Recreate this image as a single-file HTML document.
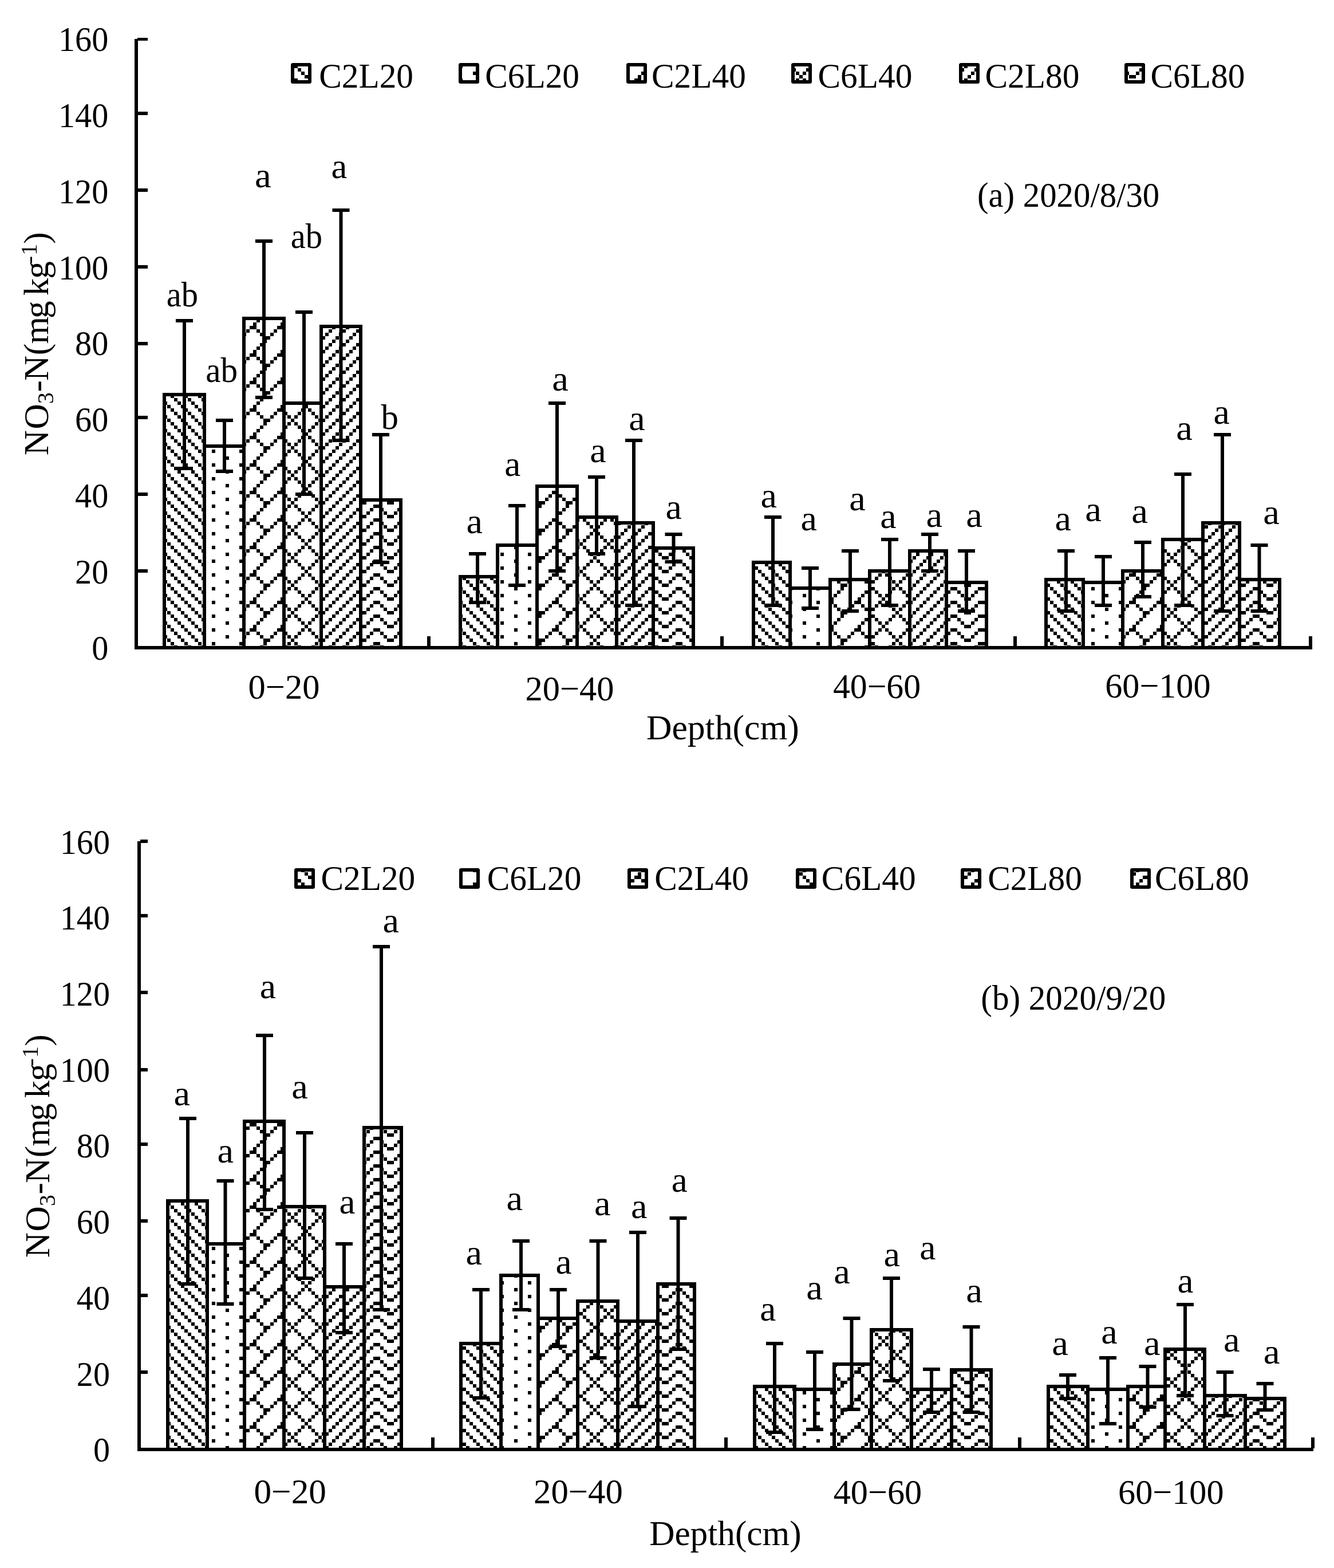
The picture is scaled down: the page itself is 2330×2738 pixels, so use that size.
<!DOCTYPE html>
<html><head><meta charset="utf-8"><title>NO3-N chart</title>
<style>html,body{margin:0;padding:0;background:#fff;}svg{display:block;}</style>
</head><body>
<svg width="2330" height="2738" viewBox="0 0 2330 2738">
<defs>
<pattern id="ltdn" patternUnits="userSpaceOnUse" x="4" y="5" width="24" height="24"><rect width="24" height="24" fill="#fff"/><rect x="18" y="0" width="6" height="6"/><rect x="0" y="6" width="6" height="6"/><rect x="6" y="12" width="6" height="6"/><rect x="12" y="18" width="6" height="6"/></pattern>
<pattern id="dots" patternUnits="userSpaceOnUse" x="4" y="5" width="48" height="24"><rect width="48" height="24" fill="#fff"/><rect x="6" y="0" width="6" height="6"/><rect x="30" y="12" width="6" height="6"/></pattern>
<pattern id="shingle" patternUnits="userSpaceOnUse" x="4" y="5" width="48" height="48"><rect width="48" height="48" fill="#fff"/><rect x="18" y="0" width="6" height="6"/><rect x="36" y="0" width="6" height="6"/><rect x="24" y="6" width="12" height="6"/><rect x="24" y="12" width="6" height="6"/><rect x="18" y="18" width="6" height="6"/><rect x="12" y="24" width="6" height="6"/><rect x="6" y="30" width="6" height="6"/><rect x="0" y="36" width="12" height="6"/><rect x="12" y="42" width="6" height="6"/><rect x="42" y="42" width="6" height="6"/></pattern>
<pattern id="dcross" patternUnits="userSpaceOnUse" x="4" y="5" width="48" height="48"><rect width="48" height="48" fill="#fff"/><rect x="18" y="0" width="6" height="6"/><rect x="30" y="0" width="6" height="6"/><rect x="24" y="6" width="6" height="6"/><rect x="18" y="12" width="6" height="6"/><rect x="30" y="12" width="6" height="6"/><rect x="12" y="18" width="6" height="6"/><rect x="36" y="18" width="6" height="6"/><rect x="6" y="24" width="6" height="6"/><rect x="42" y="24" width="6" height="6"/><rect x="0" y="30" width="6" height="6"/><rect x="6" y="36" width="6" height="6"/><rect x="42" y="36" width="6" height="6"/><rect x="12" y="42" width="6" height="6"/><rect x="36" y="42" width="6" height="6"/></pattern>
<pattern id="ltup" patternUnits="userSpaceOnUse" x="4" y="5" width="24" height="24"><rect width="24" height="24" fill="#fff"/><rect x="12" y="0" width="6" height="6"/><rect x="6" y="6" width="6" height="6"/><rect x="0" y="12" width="6" height="6"/><rect x="18" y="18" width="6" height="6"/></pattern>
<pattern id="wave" patternUnits="userSpaceOnUse" x="4" y="5" width="48" height="24"><rect width="48" height="24" fill="#fff"/><rect x="12" y="0" width="6" height="6"/><rect x="42" y="0" width="6" height="6"/><rect x="0" y="6" width="12" height="6"/><rect x="24" y="12" width="12" height="6"/><rect x="18" y="18" width="6" height="6"/><rect x="36" y="18" width="6" height="6"/></pattern>
</defs>
<rect width="2330" height="2738" fill="#fff"/>
<rect x="284" y="686" width="76" height="442" fill="url(#ltdn)"/>
<rect x="354" y="776" width="75" height="352" fill="url(#dots)"/>
<rect x="423" y="553" width="76" height="575" fill="url(#shingle)"/>
<rect x="493" y="701" width="71" height="427" fill="url(#dcross)"/>
<rect x="558" y="567" width="75" height="561" fill="url(#ltup)"/>
<rect x="627" y="870" width="76" height="258" fill="url(#wave)"/>
<rect x="801" y="1004" width="71" height="124" fill="url(#ltdn)"/>
<rect x="866" y="949" width="75" height="179" fill="url(#dots)"/>
<rect x="935" y="846" width="76" height="282" fill="url(#shingle)"/>
<rect x="1005" y="900" width="75" height="228" fill="url(#dcross)"/>
<rect x="1074" y="910" width="70" height="218" fill="url(#ltup)"/>
<rect x="1138" y="954" width="76" height="174" fill="url(#wave)"/>
<rect x="1313" y="979" width="70" height="149" fill="url(#ltdn)"/>
<rect x="1377" y="1024" width="76" height="104" fill="url(#dots)"/>
<rect x="1447" y="1009" width="75" height="119" fill="url(#shingle)"/>
<rect x="1516" y="994" width="76" height="134" fill="url(#dcross)"/>
<rect x="1586" y="959" width="70" height="169" fill="url(#ltup)"/>
<rect x="1650" y="1014" width="76" height="114" fill="url(#wave)"/>
<rect x="1824" y="1009" width="71" height="119" fill="url(#ltdn)"/>
<rect x="1889" y="1014" width="75" height="114" fill="url(#dots)"/>
<rect x="1958" y="994" width="76" height="134" fill="url(#shingle)"/>
<rect x="2028" y="939" width="76" height="189" fill="url(#dcross)"/>
<rect x="2098" y="910" width="70" height="218" fill="url(#ltup)"/>
<rect x="2162" y="1009" width="76" height="119" fill="url(#wave)"/>
<rect x="284" y="686" width="6" height="442" fill="#000"/>
<rect x="354" y="686" width="6" height="442" fill="#000"/>
<rect x="284" y="686" width="76" height="6" fill="#000"/>
<rect x="354" y="776" width="6" height="352" fill="#000"/>
<rect x="423" y="776" width="6" height="352" fill="#000"/>
<rect x="354" y="776" width="75" height="6" fill="#000"/>
<rect x="423" y="553" width="6" height="575" fill="#000"/>
<rect x="493" y="553" width="6" height="575" fill="#000"/>
<rect x="423" y="553" width="76" height="6" fill="#000"/>
<rect x="493" y="701" width="6" height="427" fill="#000"/>
<rect x="558" y="701" width="6" height="427" fill="#000"/>
<rect x="493" y="701" width="71" height="6" fill="#000"/>
<rect x="558" y="567" width="6" height="561" fill="#000"/>
<rect x="627" y="567" width="6" height="561" fill="#000"/>
<rect x="558" y="567" width="75" height="6" fill="#000"/>
<rect x="627" y="870" width="6" height="258" fill="#000"/>
<rect x="697" y="870" width="6" height="258" fill="#000"/>
<rect x="627" y="870" width="76" height="6" fill="#000"/>
<rect x="801" y="1004" width="6" height="124" fill="#000"/>
<rect x="866" y="1004" width="6" height="124" fill="#000"/>
<rect x="801" y="1004" width="71" height="6" fill="#000"/>
<rect x="866" y="949" width="6" height="179" fill="#000"/>
<rect x="935" y="949" width="6" height="179" fill="#000"/>
<rect x="866" y="949" width="75" height="6" fill="#000"/>
<rect x="935" y="846" width="6" height="282" fill="#000"/>
<rect x="1005" y="846" width="6" height="282" fill="#000"/>
<rect x="935" y="846" width="76" height="6" fill="#000"/>
<rect x="1005" y="900" width="6" height="228" fill="#000"/>
<rect x="1074" y="900" width="6" height="228" fill="#000"/>
<rect x="1005" y="900" width="75" height="6" fill="#000"/>
<rect x="1074" y="910" width="6" height="218" fill="#000"/>
<rect x="1138" y="910" width="6" height="218" fill="#000"/>
<rect x="1074" y="910" width="70" height="6" fill="#000"/>
<rect x="1138" y="954" width="6" height="174" fill="#000"/>
<rect x="1208" y="954" width="6" height="174" fill="#000"/>
<rect x="1138" y="954" width="76" height="6" fill="#000"/>
<rect x="1313" y="979" width="6" height="149" fill="#000"/>
<rect x="1377" y="979" width="6" height="149" fill="#000"/>
<rect x="1313" y="979" width="70" height="6" fill="#000"/>
<rect x="1377" y="1024" width="6" height="104" fill="#000"/>
<rect x="1447" y="1024" width="6" height="104" fill="#000"/>
<rect x="1377" y="1024" width="76" height="6" fill="#000"/>
<rect x="1447" y="1009" width="6" height="119" fill="#000"/>
<rect x="1516" y="1009" width="6" height="119" fill="#000"/>
<rect x="1447" y="1009" width="75" height="6" fill="#000"/>
<rect x="1516" y="994" width="6" height="134" fill="#000"/>
<rect x="1586" y="994" width="6" height="134" fill="#000"/>
<rect x="1516" y="994" width="76" height="6" fill="#000"/>
<rect x="1586" y="959" width="6" height="169" fill="#000"/>
<rect x="1650" y="959" width="6" height="169" fill="#000"/>
<rect x="1586" y="959" width="70" height="6" fill="#000"/>
<rect x="1650" y="1014" width="6" height="114" fill="#000"/>
<rect x="1720" y="1014" width="6" height="114" fill="#000"/>
<rect x="1650" y="1014" width="76" height="6" fill="#000"/>
<rect x="1824" y="1009" width="6" height="119" fill="#000"/>
<rect x="1889" y="1009" width="6" height="119" fill="#000"/>
<rect x="1824" y="1009" width="71" height="6" fill="#000"/>
<rect x="1889" y="1014" width="6" height="114" fill="#000"/>
<rect x="1958" y="1014" width="6" height="114" fill="#000"/>
<rect x="1889" y="1014" width="75" height="6" fill="#000"/>
<rect x="1958" y="994" width="6" height="134" fill="#000"/>
<rect x="2028" y="994" width="6" height="134" fill="#000"/>
<rect x="1958" y="994" width="76" height="6" fill="#000"/>
<rect x="2028" y="939" width="6" height="189" fill="#000"/>
<rect x="2098" y="939" width="6" height="189" fill="#000"/>
<rect x="2028" y="939" width="76" height="6" fill="#000"/>
<rect x="2098" y="910" width="6" height="218" fill="#000"/>
<rect x="2162" y="910" width="6" height="218" fill="#000"/>
<rect x="2098" y="910" width="70" height="6" fill="#000"/>
<rect x="2162" y="1009" width="6" height="119" fill="#000"/>
<rect x="2232" y="1009" width="6" height="119" fill="#000"/>
<rect x="2162" y="1009" width="76" height="6" fill="#000"/>
<rect x="319" y="557" width="6" height="264" fill="#000"/>
<rect x="307" y="557" width="30" height="6" fill="#000"/>
<rect x="307" y="815" width="30" height="6" fill="#000"/>
<rect x="389" y="731" width="6" height="95" fill="#000"/>
<rect x="377" y="731" width="30" height="6" fill="#000"/>
<rect x="377" y="820" width="30" height="6" fill="#000"/>
<rect x="458" y="418" width="6" height="279" fill="#000"/>
<rect x="446" y="418" width="30" height="6" fill="#000"/>
<rect x="446" y="691" width="30" height="6" fill="#000"/>
<rect x="528" y="542" width="6" height="324" fill="#000"/>
<rect x="516" y="542" width="30" height="6" fill="#000"/>
<rect x="516" y="860" width="30" height="6" fill="#000"/>
<rect x="592.5" y="364" width="6" height="408" fill="#000"/>
<rect x="580.5" y="364" width="30" height="6" fill="#000"/>
<rect x="580.5" y="766" width="30" height="6" fill="#000"/>
<rect x="662" y="756" width="6" height="229" fill="#000"/>
<rect x="650" y="756" width="30" height="6" fill="#000"/>
<rect x="650" y="979" width="30" height="6" fill="#000"/>
<rect x="831" y="964" width="6" height="91" fill="#000"/>
<rect x="819" y="964" width="30" height="6" fill="#000"/>
<rect x="819" y="1049" width="30" height="6" fill="#000"/>
<rect x="900" y="880" width="6" height="145" fill="#000"/>
<rect x="888" y="880" width="30" height="6" fill="#000"/>
<rect x="888" y="1019" width="30" height="6" fill="#000"/>
<rect x="970" y="701" width="6" height="299" fill="#000"/>
<rect x="958" y="701" width="30" height="6" fill="#000"/>
<rect x="958" y="994" width="30" height="6" fill="#000"/>
<rect x="1039" y="830" width="6" height="140" fill="#000"/>
<rect x="1027" y="830" width="30" height="6" fill="#000"/>
<rect x="1027" y="964" width="30" height="6" fill="#000"/>
<rect x="1104" y="766" width="6" height="294" fill="#000"/>
<rect x="1092" y="766" width="30" height="6" fill="#000"/>
<rect x="1092" y="1054" width="30" height="6" fill="#000"/>
<rect x="1173.5" y="930" width="6" height="54" fill="#000"/>
<rect x="1161.5" y="930" width="30" height="6" fill="#000"/>
<rect x="1161.5" y="978" width="30" height="6" fill="#000"/>
<rect x="1347" y="900" width="6" height="160" fill="#000"/>
<rect x="1335" y="900" width="30" height="6" fill="#000"/>
<rect x="1335" y="1054" width="30" height="6" fill="#000"/>
<rect x="1412" y="989" width="6" height="76" fill="#000"/>
<rect x="1400" y="989" width="30" height="6" fill="#000"/>
<rect x="1400" y="1059" width="30" height="6" fill="#000"/>
<rect x="1482" y="959" width="6" height="111" fill="#000"/>
<rect x="1470" y="959" width="30" height="6" fill="#000"/>
<rect x="1470" y="1064" width="30" height="6" fill="#000"/>
<rect x="1551" y="939" width="6" height="121" fill="#000"/>
<rect x="1539" y="939" width="30" height="6" fill="#000"/>
<rect x="1539" y="1054" width="30" height="6" fill="#000"/>
<rect x="1621" y="930" width="6" height="70" fill="#000"/>
<rect x="1609" y="930" width="30" height="6" fill="#000"/>
<rect x="1609" y="994" width="30" height="6" fill="#000"/>
<rect x="1685" y="959" width="6" height="111" fill="#000"/>
<rect x="1673" y="959" width="30" height="6" fill="#000"/>
<rect x="1673" y="1064" width="30" height="6" fill="#000"/>
<rect x="1859" y="959" width="6" height="111" fill="#000"/>
<rect x="1847" y="959" width="30" height="6" fill="#000"/>
<rect x="1847" y="1064" width="30" height="6" fill="#000"/>
<rect x="1924" y="969" width="6" height="91" fill="#000"/>
<rect x="1912" y="969" width="30" height="6" fill="#000"/>
<rect x="1912" y="1054" width="30" height="6" fill="#000"/>
<rect x="1993" y="944" width="6" height="101" fill="#000"/>
<rect x="1981" y="944" width="30" height="6" fill="#000"/>
<rect x="1981" y="1039" width="30" height="6" fill="#000"/>
<rect x="2063" y="825" width="6" height="235" fill="#000"/>
<rect x="2051" y="825" width="30" height="6" fill="#000"/>
<rect x="2051" y="1054" width="30" height="6" fill="#000"/>
<rect x="2132" y="756" width="6" height="314" fill="#000"/>
<rect x="2120" y="756" width="30" height="6" fill="#000"/>
<rect x="2120" y="1064" width="30" height="6" fill="#000"/>
<rect x="2196.5" y="949" width="6" height="121" fill="#000"/>
<rect x="2184.5" y="949" width="30" height="6" fill="#000"/>
<rect x="2184.5" y="1064" width="30" height="6" fill="#000"/>
<rect x="235" y="68" width="6" height="1066" fill="#000"/>
<rect x="240" y="66" width="18" height="5" fill="#000"/>
<rect x="240" y="195" width="18" height="6" fill="#000"/>
<rect x="240" y="329" width="18" height="6" fill="#000"/>
<rect x="240" y="463" width="18" height="6" fill="#000"/>
<rect x="240" y="597" width="18" height="6" fill="#000"/>
<rect x="240" y="726" width="18" height="6" fill="#000"/>
<rect x="240" y="860" width="18" height="6" fill="#000"/>
<rect x="240" y="994" width="18" height="6" fill="#000"/>
<rect x="235" y="1128" width="2057" height="6" fill="#000"/>
<rect x="746" y="1111" width="6" height="18" fill="#000"/>
<rect x="1258" y="1111" width="6" height="18" fill="#000"/>
<rect x="1770" y="1111" width="6" height="18" fill="#000"/>
<rect x="2286" y="1111" width="6" height="18" fill="#000"/>
<rect x="508" y="110" width="36" height="36" rx="3.5" fill="#000"/>
<rect x="514" y="116" width="24" height="24" fill="url(#ltdn)"/>
<rect x="801" y="110" width="36" height="36" rx="3.5" fill="#000"/>
<rect x="807" y="116" width="24" height="24" fill="url(#dots)"/>
<rect x="1094" y="110" width="36" height="36" rx="3.5" fill="#000"/>
<rect x="1100" y="116" width="24" height="24" fill="url(#shingle)"/>
<rect x="1382" y="110" width="36" height="36" rx="3.5" fill="#000"/>
<rect x="1388" y="116" width="24" height="24" fill="url(#dcross)"/>
<rect x="1675" y="110" width="36" height="36" rx="3.5" fill="#000"/>
<rect x="1681" y="116" width="24" height="24" fill="url(#ltup)"/>
<rect x="1964" y="110" width="36" height="36" rx="3.5" fill="#000"/>
<rect x="1970" y="116" width="24" height="24" fill="url(#wave)"/>
<rect x="290" y="2094" width="75" height="434" fill="url(#ltdn)"/>
<rect x="359" y="2169" width="71" height="359" fill="url(#dots)"/>
<rect x="424" y="1955" width="75" height="573" fill="url(#shingle)"/>
<rect x="493" y="2104" width="77" height="424" fill="url(#dcross)"/>
<rect x="564" y="2244" width="75" height="284" fill="url(#ltup)"/>
<rect x="633" y="1966" width="71" height="562" fill="url(#wave)"/>
<rect x="802" y="2343" width="76" height="185" fill="url(#ltdn)"/>
<rect x="872" y="2224" width="71" height="304" fill="url(#dots)"/>
<rect x="937" y="2299" width="75" height="229" fill="url(#shingle)"/>
<rect x="1006" y="2269" width="76" height="259" fill="url(#dcross)"/>
<rect x="1076" y="2304" width="76" height="224" fill="url(#ltup)"/>
<rect x="1146" y="2239" width="70" height="289" fill="url(#wave)"/>
<rect x="1315" y="2418" width="76" height="110" fill="url(#ltdn)"/>
<rect x="1385" y="2423" width="75" height="105" fill="url(#dots)"/>
<rect x="1454" y="2379" width="71" height="149" fill="url(#shingle)"/>
<rect x="1519" y="2319" width="76" height="209" fill="url(#dcross)"/>
<rect x="1589" y="2423" width="76" height="105" fill="url(#ltup)"/>
<rect x="1659" y="2389" width="75" height="139" fill="url(#wave)"/>
<rect x="1828" y="2418" width="75" height="110" fill="url(#ltdn)"/>
<rect x="1897" y="2423" width="76" height="105" fill="url(#dots)"/>
<rect x="1967" y="2418" width="71" height="110" fill="url(#shingle)"/>
<rect x="2032" y="2353" width="75" height="175" fill="url(#dcross)"/>
<rect x="2101" y="2434" width="77" height="94" fill="url(#ltup)"/>
<rect x="2172" y="2439" width="75" height="89" fill="url(#wave)"/>
<rect x="290" y="2094" width="6" height="434" fill="#000"/>
<rect x="359" y="2094" width="6" height="434" fill="#000"/>
<rect x="290" y="2094" width="75" height="6" fill="#000"/>
<rect x="359" y="2169" width="6" height="359" fill="#000"/>
<rect x="424" y="2169" width="6" height="359" fill="#000"/>
<rect x="359" y="2169" width="71" height="6" fill="#000"/>
<rect x="424" y="1955" width="6" height="573" fill="#000"/>
<rect x="493" y="1955" width="6" height="573" fill="#000"/>
<rect x="424" y="1955" width="75" height="6" fill="#000"/>
<rect x="493" y="2104" width="6" height="424" fill="#000"/>
<rect x="564" y="2104" width="6" height="424" fill="#000"/>
<rect x="493" y="2104" width="77" height="6" fill="#000"/>
<rect x="564" y="2244" width="6" height="284" fill="#000"/>
<rect x="633" y="2244" width="6" height="284" fill="#000"/>
<rect x="564" y="2244" width="75" height="6" fill="#000"/>
<rect x="633" y="1966" width="6" height="562" fill="#000"/>
<rect x="698" y="1966" width="6" height="562" fill="#000"/>
<rect x="633" y="1966" width="71" height="6" fill="#000"/>
<rect x="802" y="2343" width="6" height="185" fill="#000"/>
<rect x="872" y="2343" width="6" height="185" fill="#000"/>
<rect x="802" y="2343" width="76" height="6" fill="#000"/>
<rect x="872" y="2224" width="6" height="304" fill="#000"/>
<rect x="937" y="2224" width="6" height="304" fill="#000"/>
<rect x="872" y="2224" width="71" height="6" fill="#000"/>
<rect x="937" y="2299" width="6" height="229" fill="#000"/>
<rect x="1006" y="2299" width="6" height="229" fill="#000"/>
<rect x="937" y="2299" width="75" height="6" fill="#000"/>
<rect x="1006" y="2269" width="6" height="259" fill="#000"/>
<rect x="1076" y="2269" width="6" height="259" fill="#000"/>
<rect x="1006" y="2269" width="76" height="6" fill="#000"/>
<rect x="1076" y="2304" width="6" height="224" fill="#000"/>
<rect x="1146" y="2304" width="6" height="224" fill="#000"/>
<rect x="1076" y="2304" width="76" height="6" fill="#000"/>
<rect x="1146" y="2239" width="6" height="289" fill="#000"/>
<rect x="1210" y="2239" width="6" height="289" fill="#000"/>
<rect x="1146" y="2239" width="70" height="6" fill="#000"/>
<rect x="1315" y="2418" width="6" height="110" fill="#000"/>
<rect x="1385" y="2418" width="6" height="110" fill="#000"/>
<rect x="1315" y="2418" width="76" height="6" fill="#000"/>
<rect x="1385" y="2423" width="6" height="105" fill="#000"/>
<rect x="1454" y="2423" width="6" height="105" fill="#000"/>
<rect x="1385" y="2423" width="75" height="6" fill="#000"/>
<rect x="1454" y="2379" width="6" height="149" fill="#000"/>
<rect x="1519" y="2379" width="6" height="149" fill="#000"/>
<rect x="1454" y="2379" width="71" height="6" fill="#000"/>
<rect x="1519" y="2319" width="6" height="209" fill="#000"/>
<rect x="1589" y="2319" width="6" height="209" fill="#000"/>
<rect x="1519" y="2319" width="76" height="6" fill="#000"/>
<rect x="1589" y="2423" width="6" height="105" fill="#000"/>
<rect x="1659" y="2423" width="6" height="105" fill="#000"/>
<rect x="1589" y="2423" width="76" height="6" fill="#000"/>
<rect x="1659" y="2389" width="6" height="139" fill="#000"/>
<rect x="1728" y="2389" width="6" height="139" fill="#000"/>
<rect x="1659" y="2389" width="75" height="6" fill="#000"/>
<rect x="1828" y="2418" width="6" height="110" fill="#000"/>
<rect x="1897" y="2418" width="6" height="110" fill="#000"/>
<rect x="1828" y="2418" width="75" height="6" fill="#000"/>
<rect x="1897" y="2423" width="6" height="105" fill="#000"/>
<rect x="1967" y="2423" width="6" height="105" fill="#000"/>
<rect x="1897" y="2423" width="76" height="6" fill="#000"/>
<rect x="1967" y="2418" width="6" height="110" fill="#000"/>
<rect x="2032" y="2418" width="6" height="110" fill="#000"/>
<rect x="1967" y="2418" width="71" height="6" fill="#000"/>
<rect x="2032" y="2353" width="6" height="175" fill="#000"/>
<rect x="2101" y="2353" width="6" height="175" fill="#000"/>
<rect x="2032" y="2353" width="75" height="6" fill="#000"/>
<rect x="2101" y="2434" width="6" height="94" fill="#000"/>
<rect x="2172" y="2434" width="6" height="94" fill="#000"/>
<rect x="2101" y="2434" width="77" height="6" fill="#000"/>
<rect x="2172" y="2439" width="6" height="89" fill="#000"/>
<rect x="2241" y="2439" width="6" height="89" fill="#000"/>
<rect x="2172" y="2439" width="75" height="6" fill="#000"/>
<rect x="325" y="1950" width="6" height="295" fill="#000"/>
<rect x="313" y="1950" width="30" height="6" fill="#000"/>
<rect x="313" y="2239" width="30" height="6" fill="#000"/>
<rect x="390.5" y="2059" width="6" height="221" fill="#000"/>
<rect x="378.5" y="2059" width="30" height="6" fill="#000"/>
<rect x="378.5" y="2274" width="30" height="6" fill="#000"/>
<rect x="459" y="1805" width="6" height="310" fill="#000"/>
<rect x="447" y="1805" width="30" height="6" fill="#000"/>
<rect x="447" y="2109" width="30" height="6" fill="#000"/>
<rect x="529" y="1975" width="6" height="260" fill="#000"/>
<rect x="517" y="1975" width="30" height="6" fill="#000"/>
<rect x="517" y="2229" width="30" height="6" fill="#000"/>
<rect x="598" y="2169" width="6" height="161" fill="#000"/>
<rect x="586" y="2169" width="30" height="6" fill="#000"/>
<rect x="586" y="2324" width="30" height="6" fill="#000"/>
<rect x="663" y="1650" width="6" height="640" fill="#000"/>
<rect x="651" y="1650" width="30" height="6" fill="#000"/>
<rect x="651" y="2284" width="30" height="6" fill="#000"/>
<rect x="837" y="2249" width="6" height="195" fill="#000"/>
<rect x="825" y="2249" width="30" height="6" fill="#000"/>
<rect x="825" y="2438" width="30" height="6" fill="#000"/>
<rect x="907" y="2164" width="6" height="126" fill="#000"/>
<rect x="895" y="2164" width="30" height="6" fill="#000"/>
<rect x="895" y="2284" width="30" height="6" fill="#000"/>
<rect x="972" y="2249" width="6" height="105" fill="#000"/>
<rect x="960" y="2249" width="30" height="6" fill="#000"/>
<rect x="960" y="2348" width="30" height="6" fill="#000"/>
<rect x="1041.5" y="2164" width="6" height="210" fill="#000"/>
<rect x="1029.5" y="2164" width="30" height="6" fill="#000"/>
<rect x="1029.5" y="2368" width="30" height="6" fill="#000"/>
<rect x="1111" y="2149" width="6" height="310" fill="#000"/>
<rect x="1099" y="2149" width="30" height="6" fill="#000"/>
<rect x="1099" y="2453" width="30" height="6" fill="#000"/>
<rect x="1181.5" y="2124" width="6" height="235" fill="#000"/>
<rect x="1169.5" y="2124" width="30" height="6" fill="#000"/>
<rect x="1169.5" y="2353" width="30" height="6" fill="#000"/>
<rect x="1350" y="2343" width="6" height="161" fill="#000"/>
<rect x="1338" y="2343" width="30" height="6" fill="#000"/>
<rect x="1338" y="2498" width="30" height="6" fill="#000"/>
<rect x="1420" y="2358" width="6" height="141" fill="#000"/>
<rect x="1408" y="2358" width="30" height="6" fill="#000"/>
<rect x="1408" y="2493" width="30" height="6" fill="#000"/>
<rect x="1484.5" y="2299" width="6" height="165" fill="#000"/>
<rect x="1472.5" y="2299" width="30" height="6" fill="#000"/>
<rect x="1472.5" y="2458" width="30" height="6" fill="#000"/>
<rect x="1554" y="2229" width="6" height="185" fill="#000"/>
<rect x="1542" y="2229" width="30" height="6" fill="#000"/>
<rect x="1542" y="2408" width="30" height="6" fill="#000"/>
<rect x="1624" y="2388" width="6" height="81" fill="#000"/>
<rect x="1612" y="2388" width="30" height="6" fill="#000"/>
<rect x="1612" y="2463" width="30" height="6" fill="#000"/>
<rect x="1693.5" y="2314" width="6" height="155" fill="#000"/>
<rect x="1681.5" y="2314" width="30" height="6" fill="#000"/>
<rect x="1681.5" y="2463" width="30" height="6" fill="#000"/>
<rect x="1862" y="2398" width="6" height="47" fill="#000"/>
<rect x="1850" y="2398" width="30" height="6" fill="#000"/>
<rect x="1850" y="2439" width="30" height="6" fill="#000"/>
<rect x="1932" y="2368" width="6" height="121" fill="#000"/>
<rect x="1920" y="2368" width="30" height="6" fill="#000"/>
<rect x="1920" y="2483" width="30" height="6" fill="#000"/>
<rect x="2001.5" y="2383" width="6" height="77" fill="#000"/>
<rect x="1989.5" y="2383" width="30" height="6" fill="#000"/>
<rect x="1989.5" y="2454" width="30" height="6" fill="#000"/>
<rect x="2067" y="2275" width="6" height="165" fill="#000"/>
<rect x="2055" y="2275" width="30" height="6" fill="#000"/>
<rect x="2055" y="2434" width="30" height="6" fill="#000"/>
<rect x="2136.5" y="2393" width="6" height="82" fill="#000"/>
<rect x="2124.5" y="2393" width="30" height="6" fill="#000"/>
<rect x="2124.5" y="2469" width="30" height="6" fill="#000"/>
<rect x="2206.5" y="2413" width="6" height="52" fill="#000"/>
<rect x="2194.5" y="2413" width="30" height="6" fill="#000"/>
<rect x="2194.5" y="2459" width="30" height="6" fill="#000"/>
<rect x="240" y="1469" width="6" height="1065" fill="#000"/>
<rect x="245" y="1466" width="13" height="6" fill="#000"/>
<rect x="245" y="1596" width="13" height="6" fill="#000"/>
<rect x="245" y="1730" width="13" height="6" fill="#000"/>
<rect x="245" y="1865" width="13" height="6" fill="#000"/>
<rect x="245" y="1995" width="13" height="6" fill="#000"/>
<rect x="245" y="2129" width="13" height="6" fill="#000"/>
<rect x="245" y="2259" width="13" height="6" fill="#000"/>
<rect x="245" y="2393" width="13" height="6" fill="#000"/>
<rect x="240" y="2528" width="2054" height="6" fill="#000"/>
<rect x="753" y="2510" width="6" height="19" fill="#000"/>
<rect x="1265" y="2510" width="6" height="19" fill="#000"/>
<rect x="1778" y="2510" width="6" height="19" fill="#000"/>
<rect x="2290" y="2510" width="6" height="19" fill="#000"/>
<rect x="514" y="1516" width="36" height="36" rx="3.5" fill="#000"/>
<rect x="520" y="1522" width="24" height="24" fill="url(#ltdn)"/>
<rect x="802" y="1516" width="36" height="36" rx="3.5" fill="#000"/>
<rect x="808" y="1522" width="24" height="24" fill="url(#dots)"/>
<rect x="1096" y="1516" width="36" height="36" rx="3.5" fill="#000"/>
<rect x="1102" y="1522" width="24" height="24" fill="url(#shingle)"/>
<rect x="1390" y="1516" width="36" height="36" rx="3.5" fill="#000"/>
<rect x="1396" y="1522" width="24" height="24" fill="url(#dcross)"/>
<rect x="1678" y="1516" width="36" height="36" rx="3.5" fill="#000"/>
<rect x="1684" y="1522" width="24" height="24" fill="url(#ltup)"/>
<rect x="1974" y="1516" width="36" height="36" rx="3.5" fill="#000"/>
<rect x="1980" y="1522" width="24" height="24" fill="url(#wave)"/>
<g font-family="'Liberation Serif', 'Times New Roman', serif" fill="#000" style="font-kerning:none">
<text transform="translate(290.84,535.43) scale(0.9572,1.0000)" font-size="61.2">ab</text>
<text transform="translate(359.22,667.03) scale(0.9684,1.0000)" font-size="61.2">ab</text>
<text transform="translate(445.03,327.41) scale(1.0548,1.0000)" font-size="61.2">a</text>
<text transform="translate(507.74,432.73) scale(0.9572,1.0000)" font-size="61.2">ab</text>
<text transform="translate(578.49,311.41) scale(1.0258,1.0000)" font-size="61.2">a</text>
<text transform="translate(665.4,748.53) scale(0.9940,1.0000)" font-size="61.2">b</text>
<text transform="translate(814.55,930.51) scale(1.0465,1.0000)" font-size="61.2">a</text>
<text transform="translate(881.28,831.11) scale(1.0341,1.0000)" font-size="61.2">a</text>
<text transform="translate(964.33,681.56) scale(1.0548,1.0000)" font-size="61.2">a</text>
<text transform="translate(1030.35,807.31) scale(1.0465,1.0000)" font-size="61.2">a</text>
<text transform="translate(1098.35,750.56) scale(1.0465,1.0000)" font-size="61.2">a</text>
<text transform="translate(1162.46,906.16) scale(1.0424,1.0000)" font-size="61.2">a</text>
<text transform="translate(1328.45,885.56) scale(1.0465,1.0000)" font-size="61.2">a</text>
<text transform="translate(1398.45,925.51) scale(1.0465,1.0000)" font-size="61.2">a</text>
<text transform="translate(1483.14,890.61) scale(1.0507,1.0000)" font-size="61.2">a</text>
<text transform="translate(1537.25,921.81) scale(1.0465,1.0000)" font-size="61.2">a</text>
<text transform="translate(1617.43,920.36) scale(1.0548,1.0000)" font-size="61.2">a</text>
<text transform="translate(1687.13,920.36) scale(1.0548,1.0000)" font-size="61.2">a</text>
<text transform="translate(1842.45,925.56) scale(1.0465,1.0000)" font-size="61.2">a</text>
<text transform="translate(1895.33,910.41) scale(1.0548,1.0000)" font-size="61.2">a</text>
<text transform="translate(1976.33,913.41) scale(1.0548,1.0000)" font-size="61.2">a</text>
<text transform="translate(2054.13,768.26) scale(1.0548,1.0000)" font-size="61.2">a</text>
<text transform="translate(2119.46,740.46) scale(1.0424,1.0000)" font-size="61.2">a</text>
<text transform="translate(2206.33,915.36) scale(1.0548,1.0000)" font-size="61.2">a</text>
<text transform="translate(101.99,88.81) scale(0.9390,1)" font-size="62">160</text>
<text transform="translate(101.99,221.71) scale(0.9390,1)" font-size="62">140</text>
<text transform="translate(101.99,354.61) scale(0.9390,1)" font-size="62">120</text>
<text transform="translate(101.99,487.51) scale(0.9390,1)" font-size="62">100</text>
<text transform="translate(131.1,620.41) scale(0.9390,1)" font-size="62">80</text>
<text transform="translate(131.1,753.31) scale(0.9390,1)" font-size="62">60</text>
<text transform="translate(131.1,886.21) scale(0.9390,1)" font-size="62">40</text>
<text transform="translate(131.1,1019.11) scale(0.9390,1)" font-size="62">20</text>
<text transform="translate(160.21,1152.01) scale(0.9390,1)" font-size="62">0</text>
<text transform="translate(557.27,153.21) scale(0.9520,1)" font-size="62.3">C2L20</text>
<text transform="translate(847.27,153.21) scale(0.9520,1)" font-size="62.3">C6L20</text>
<text transform="translate(1138.07,153.21) scale(0.9520,1)" font-size="62.3">C2L40</text>
<text transform="translate(1428.57,153.21) scale(0.9520,1)" font-size="62.3">C6L40</text>
<text transform="translate(1720.57,153.21) scale(0.9520,1)" font-size="62.3">C2L80</text>
<text transform="translate(2009.57,153.21) scale(0.9520,1)" font-size="62.3">C6L80</text>
<text transform="translate(1706.92,361.1) scale(0.9604,1)" font-size="61.2">(a) 2020/8/30</text>
<text transform="translate(433.6,1220.45) scale(0.9881,1.0000)" font-size="61.2">0−20</text>
<text transform="translate(917.55,1223.45) scale(0.9869,1.0000)" font-size="61.2">20−40</text>
<text transform="translate(1454.93,1218.5) scale(0.9766,1.0000)" font-size="61.2">40−60</text>
<text transform="translate(1930.32,1218.45) scale(0.9822,1.0000)" font-size="61.2">60−100</text>
<text transform="translate(1128.92,1290.9) scale(1.0071,1)" font-size="61.2">Depth(cm)</text>
<text transform="translate(84,795) rotate(-90)" font-size="61.2"><tspan x="-0.28" y="0" font-size="61.2">N</tspan><tspan x="45.55" y="0" font-size="61.2">O</tspan><tspan x="89.87" y="9.4" font-size="40.39">3</tspan><tspan x="110.43" y="0" font-size="61.2">-</tspan><tspan x="129.97" y="0" font-size="61.2">N</tspan><tspan x="174.65" y="0" font-size="61.2">(</tspan><tspan x="194.48" y="0" font-size="61.2">m</tspan><tspan x="239.02" y="0" font-size="61.2">g</tspan> <tspan x="278.77" y="0" font-size="61.2">k</tspan><tspan x="308.32" y="0" font-size="61.2">g</tspan><tspan x="334.6" y="-20" font-size="40.39">-</tspan><tspan x="348.99" y="-20" font-size="40.39">1</tspan><tspan x="369.17" y="0" font-size="61.2">)</tspan></text>
<text transform="translate(303.44,1929.61) scale(1.0507,1.0000)" font-size="61.2">a</text>
<text transform="translate(379.54,2030.36) scale(1.0507,1.0000)" font-size="61.2">a</text>
<text transform="translate(453.76,1743.31) scale(1.0424,1.0000)" font-size="61.2">a</text>
<text transform="translate(509.24,1917.51) scale(1.0507,1.0000)" font-size="61.2">a</text>
<text transform="translate(592.58,2118.56) scale(1.0300,1.0000)" font-size="61.2">a</text>
<text transform="translate(668.45,1628.46) scale(1.0465,1.0000)" font-size="61.2">a</text>
<text transform="translate(813.44,2207.61) scale(1.0507,1.0000)" font-size="61.2">a</text>
<text transform="translate(884.54,2112.81) scale(1.0507,1.0000)" font-size="61.2">a</text>
<text transform="translate(970.58,2223.81) scale(1.0341,1.0000)" font-size="61.2">a</text>
<text transform="translate(1037.94,2122.41) scale(1.0507,1.0000)" font-size="61.2">a</text>
<text transform="translate(1102.04,2127.06) scale(1.0507,1.0000)" font-size="61.2">a</text>
<text transform="translate(1172.68,2081.26) scale(1.0300,1.0000)" font-size="61.2">a</text>
<text transform="translate(1327.18,2305.81) scale(1.0341,1.0000)" font-size="61.2">a</text>
<text transform="translate(1408.23,2269.31) scale(1.0548,1.0000)" font-size="61.2">a</text>
<text transform="translate(1456.14,2241.21) scale(1.0507,1.0000)" font-size="61.2">a</text>
<text transform="translate(1543.44,2211.06) scale(1.0507,1.0000)" font-size="61.2">a</text>
<text transform="translate(1606.37,2198.56) scale(1.0383,1.0000)" font-size="61.2">a</text>
<text transform="translate(1687.31,2274.31) scale(1.0631,1.0000)" font-size="61.2">a</text>
<text transform="translate(1837.13,2366.11) scale(1.0548,1.0000)" font-size="61.2">a</text>
<text transform="translate(1923.24,2346.11) scale(1.0507,1.0000)" font-size="61.2">a</text>
<text transform="translate(1998.03,2366.11) scale(1.0548,1.0000)" font-size="61.2">a</text>
<text transform="translate(2056.48,2256.91) scale(1.0300,1.0000)" font-size="61.2">a</text>
<text transform="translate(2137.04,2359.86) scale(1.0507,1.0000)" font-size="61.2">a</text>
<text transform="translate(2206.81,2381.06) scale(1.0631,1.0000)" font-size="61.2">a</text>
<text transform="translate(104.69,1490.61) scale(0.9390,1)" font-size="62">160</text>
<text transform="translate(104.69,1623.31) scale(0.9390,1)" font-size="62">140</text>
<text transform="translate(104.69,1756.01) scale(0.9390,1)" font-size="62">120</text>
<text transform="translate(104.69,1888.71) scale(0.9390,1)" font-size="62">100</text>
<text transform="translate(133.8,2021.41) scale(0.9390,1)" font-size="62">80</text>
<text transform="translate(133.8,2154.11) scale(0.9390,1)" font-size="62">60</text>
<text transform="translate(133.8,2286.81) scale(0.9390,1)" font-size="62">40</text>
<text transform="translate(133.8,2419.51) scale(0.9390,1)" font-size="62">20</text>
<text transform="translate(162.91,2552.21) scale(0.9390,1)" font-size="62">0</text>
<text transform="translate(560.47,1554.21) scale(0.9520,1)" font-size="62.3">C2L20</text>
<text transform="translate(850.67,1554.21) scale(0.9520,1)" font-size="62.3">C6L20</text>
<text transform="translate(1143.17,1554.21) scale(0.9520,1)" font-size="62.3">C2L40</text>
<text transform="translate(1434.87,1554.21) scale(0.9520,1)" font-size="62.3">C6L40</text>
<text transform="translate(1725.17,1554.21) scale(0.9520,1)" font-size="62.3">C2L80</text>
<text transform="translate(2016.97,1554.21) scale(0.9520,1)" font-size="62.3">C6L80</text>
<text transform="translate(1713.31,1762.6) scale(0.9644,1)" font-size="61.2">(b) 2020/9/20</text>
<text transform="translate(443.47,2624.7) scale(1.0012,1.0000)" font-size="61.2">0−20</text>
<text transform="translate(932.03,2625.1) scale(0.9928,1.0000)" font-size="61.2">20−40</text>
<text transform="translate(1455.72,2625.75) scale(0.9844,1.0000)" font-size="61.2">40−60</text>
<text transform="translate(1953.11,2625.75) scale(0.9833,1.0000)" font-size="61.2">60−100</text>
<text transform="translate(1134.13,2698) scale(1.0018,1)" font-size="61.2">Depth(cm)</text>
<text transform="translate(86.2,2196) rotate(-90)" font-size="61.2"><tspan x="-0.28" y="0" font-size="61.2">N</tspan><tspan x="45.55" y="0" font-size="61.2">O</tspan><tspan x="89.87" y="9.4" font-size="40.39">3</tspan><tspan x="110.43" y="0" font-size="61.2">-</tspan><tspan x="129.97" y="0" font-size="61.2">N</tspan><tspan x="174.65" y="0" font-size="61.2">(</tspan><tspan x="194.48" y="0" font-size="61.2">m</tspan><tspan x="239.02" y="0" font-size="61.2">g</tspan> <tspan x="278.77" y="0" font-size="61.2">k</tspan><tspan x="308.32" y="0" font-size="61.2">g</tspan><tspan x="334.6" y="-20" font-size="40.39">-</tspan><tspan x="348.99" y="-20" font-size="40.39">1</tspan><tspan x="369.17" y="0" font-size="61.2">)</tspan></text>
</g>
</svg>
</body></html>
